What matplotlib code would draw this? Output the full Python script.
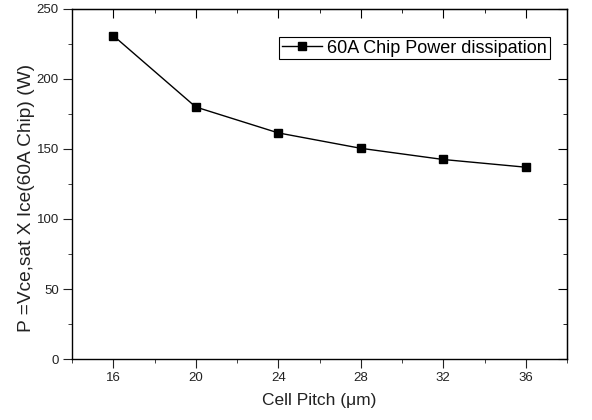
import matplotlib.pyplot as plt
from matplotlib.ticker import MultipleLocator

plt.rcParams['font.family'] = ['Liberation Sans', 'DejaVu Sans']

# data
cell_pitch = [16, 20, 24, 28, 32, 36]
power = [231, 180, 161.5, 150.5, 142.5, 137]

fig = plt.figure(figsize=(5.92, 4.2), dpi=100)
ax = fig.add_axes([72 / 592, 61 / 420, 495 / 592, 350 / 420])

ax.plot(cell_pitch, power, color='black', lw=1, marker='s', ms=6,
        label='60A Chip Power dissipation')

ax.set_xlim(14, 38)
ax.set_ylim(0, 250)
ax.xaxis.set_major_locator(MultipleLocator(4))
ax.xaxis.set_minor_locator(MultipleLocator(2))
ax.yaxis.set_major_locator(MultipleLocator(50))
ax.yaxis.set_minor_locator(MultipleLocator(25))

ax.tick_params(which='both', direction='out', top=False, right=False,
               labelsize=9.5, colors='#222222', pad=3)
ax.tick_params(which='major', length=6.5)
ax.tick_params(which='minor', length=3)
# inward ticks on top and right
sec_x = ax.secondary_xaxis('top')
sec_x.xaxis.set_major_locator(MultipleLocator(4))
sec_x.xaxis.set_minor_locator(MultipleLocator(2))
sec_x.tick_params(which='both', direction='in', labeltop=False)
sec_x.tick_params(which='major', length=6.5)
sec_x.tick_params(which='minor', length=3)
sec_y = ax.secondary_yaxis('right')
sec_y.yaxis.set_major_locator(MultipleLocator(50))
sec_y.yaxis.set_minor_locator(MultipleLocator(25))
sec_y.tick_params(which='both', direction='in', labelright=False)
sec_y.tick_params(which='major', length=6.5)
sec_y.tick_params(which='minor', length=3)

for s in ax.spines.values():
    s.set_linewidth(1)

ax.set_xlabel('Cell Pitch (μm)', fontsize=12.5, color='#222222', labelpad=6)
ax.set_ylabel('P =Vce,sat X Ice(60A Chip) (W)', fontsize=13.8, color='#222222')
ax.yaxis.set_label_coords(-0.075, 0.46)

leg = ax.legend(loc='upper right', bbox_to_anchor=(0.965, 0.92), fontsize=13,
                fancybox=False, edgecolor='black', framealpha=1,
                handlelength=2.2, handletextpad=0.3, borderpad=0.15,
                borderaxespad=0)
leg.get_frame().set_linewidth(0.8)

fig.savefig('out.png', dpi=100)
